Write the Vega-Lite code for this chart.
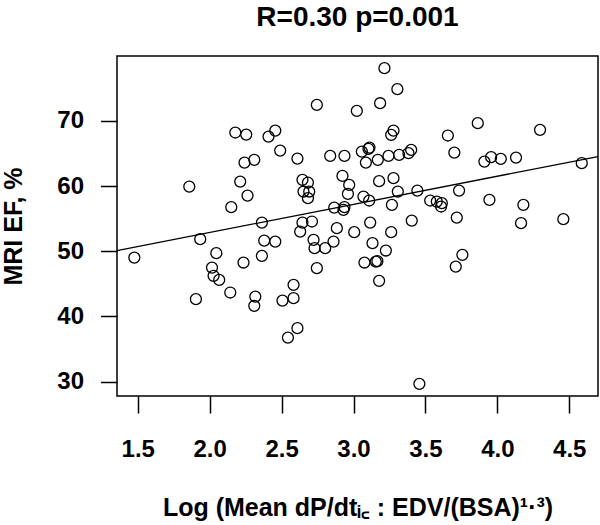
{
  "$schema": "https://vega.github.io/schema/vega-lite/v6.json",
  "width": 481,
  "height": 340,
  "autosize": {"type": "none"},
  "padding": {"left": 117, "top": 56, "right": 2, "bottom": 129},
  "background": "white",
  "title": {"text": "R=0.30 p=0.001", "font": "Liberation Sans", "fontSize": 28, "fontWeight": "bold", "color": "black", "offset": 24, "anchor": "middle"},
  "config": {
    "view": {"stroke": "black", "strokeWidth": 1.5},
    "axis": {
      "domain": false, "grid": false,
      "labelFont": "Liberation Sans", "labelFontSize": 24, "labelFontWeight": "bold", "labelColor": "black",
      "titleFont": "Liberation Sans", "titleFontSize": 25, "titleFontWeight": "bold", "titleColor": "black",
      "tickColor": "black", "tickWidth": 1.5, "labelFlush": false, "labelOverlap": false
    }
  },
  "datasets": {
    "points": [
      {"x": 2.178, "y": 68.21}, {"x": 2.254, "y": 67.90}, {"x": 2.242, "y": 63.60}, {"x": 2.310, "y": 64.02},
      {"x": 1.858, "y": 59.92}, {"x": 2.212, "y": 60.69}, {"x": 2.263, "y": 58.54}, {"x": 2.150, "y": 56.76},
      {"x": 2.363, "y": 54.40}, {"x": 1.934, "y": 51.86}, {"x": 2.379, "y": 51.64},
      {"x": 3.215, "y": 78.08}, {"x": 3.305, "y": 74.86}, {"x": 2.745, "y": 72.45}, {"x": 3.023, "y": 71.53},
      {"x": 3.185, "y": 72.71}, {"x": 2.456, "y": 68.51}, {"x": 2.409, "y": 67.59}, {"x": 3.278, "y": 68.51},
      {"x": 3.262, "y": 67.85}, {"x": 2.490, "y": 65.44}, {"x": 2.610, "y": 64.22}, {"x": 2.838, "y": 64.63},
      {"x": 2.937, "y": 64.63}, {"x": 3.058, "y": 65.29}, {"x": 3.104, "y": 65.71}, {"x": 3.111, "y": 65.90},
      {"x": 3.086, "y": 63.60}, {"x": 3.169, "y": 64.02}, {"x": 3.243, "y": 64.63}, {"x": 3.317, "y": 64.79},
      {"x": 3.382, "y": 65.05}, {"x": 3.401, "y": 65.55}, {"x": 2.645, "y": 60.95}, {"x": 2.683, "y": 60.54},
      {"x": 2.652, "y": 59.16}, {"x": 2.692, "y": 59.16}, {"x": 2.683, "y": 58.14}, {"x": 2.923, "y": 61.56},
      {"x": 2.970, "y": 60.18}, {"x": 2.961, "y": 58.80}, {"x": 3.178, "y": 60.75}, {"x": 3.278, "y": 61.21},
      {"x": 3.308, "y": 59.16}, {"x": 3.069, "y": 58.39}, {"x": 3.109, "y": 57.78}, {"x": 3.444, "y": 59.31},
      {"x": 2.866, "y": 56.70}, {"x": 2.937, "y": 56.76}, {"x": 2.930, "y": 56.35}, {"x": 3.267, "y": 57.12},
      {"x": 2.645, "y": 54.40}, {"x": 2.711, "y": 54.56}, {"x": 2.629, "y": 53.02}, {"x": 2.884, "y": 53.54},
      {"x": 3.116, "y": 54.40}, {"x": 3.405, "y": 54.71}, {"x": 3.005, "y": 52.93}, {"x": 3.262, "y": 52.93},
      {"x": 2.456, "y": 51.49}, {"x": 2.722, "y": 51.75}, {"x": 2.729, "y": 50.48}, {"x": 2.803, "y": 50.48},
      {"x": 2.861, "y": 51.49}, {"x": 3.132, "y": 51.24}, {"x": 3.225, "y": 50.11}, {"x": 3.076, "y": 48.27},
      {"x": 3.155, "y": 48.42}, {"x": 3.166, "y": 48.48}, {"x": 3.178, "y": 45.46}, {"x": 2.745, "y": 47.41},
      {"x": 2.583, "y": 44.85}, {"x": 2.583, "y": 42.81}, {"x": 2.506, "y": 42.44}, {"x": 2.610, "y": 38.21},
      {"x": 2.544, "y": 36.76}, {"x": 3.458, "y": 29.66},
      {"x": 1.476, "y": 49.03}, {"x": 2.046, "y": 49.71}, {"x": 2.016, "y": 47.50}, {"x": 2.027, "y": 46.23},
      {"x": 2.066, "y": 45.61}, {"x": 2.235, "y": 48.27}, {"x": 2.363, "y": 49.29}, {"x": 2.143, "y": 43.67},
      {"x": 1.904, "y": 42.65}, {"x": 2.317, "y": 43.05}, {"x": 2.310, "y": 41.63},
      {"x": 3.864, "y": 69.65}, {"x": 3.656, "y": 67.75}, {"x": 4.297, "y": 68.62}, {"x": 3.701, "y": 65.14},
      {"x": 3.910, "y": 63.76}, {"x": 3.957, "y": 64.43}, {"x": 4.024, "y": 64.17}, {"x": 4.130, "y": 64.37},
      {"x": 4.587, "y": 63.51}, {"x": 3.734, "y": 59.31}, {"x": 3.533, "y": 57.78}, {"x": 3.579, "y": 57.62},
      {"x": 3.614, "y": 57.38}, {"x": 3.609, "y": 56.86}, {"x": 3.945, "y": 57.88}, {"x": 4.181, "y": 57.12},
      {"x": 3.718, "y": 55.17}, {"x": 4.165, "y": 54.31}, {"x": 4.459, "y": 54.92},
      {"x": 3.757, "y": 49.45}, {"x": 3.711, "y": 47.65}
    ],
    "fit": [{"x": 1.3554, "y": 50.11}, {"x": 4.70, "y": 64.52}]
  },
  "layer": [
    {
      "data": {"name": "points"},
      "mark": {"type": "point", "shape": "circle", "filled": false, "stroke": "black", "strokeWidth": 1.3, "size": 120, "opacity": 1},
      "encoding": {
        "x": {
          "field": "x", "type": "quantitative",
          "scale": {"domain": [1.3554, 4.70], "nice": false, "zero": false},
          "axis": {"values": [1.5, 2.0, 2.5, 3.0, 3.5, 4.0, 4.5], "format": ".1f", "tickSize": 17, "labelPadding": 24, "titlePadding": 34,
                   "title": "Log (Mean dP/dtᵢ꜀ : EDV/(BSA)¹·³)"}
        },
        "y": {
          "field": "y", "type": "quantitative",
          "scale": {"domain": [27.8, 79.95], "nice": false, "zero": false},
          "axis": {"values": [30, 40, 50, 60, 70], "tickSize": 16.5, "labelPadding": 17, "titlePadding": 30, "title": "MRI EF, %"}
        }
      }
    },
    {
      "data": {"name": "fit"},
      "mark": {"type": "line", "color": "black", "strokeWidth": 1.3},
      "encoding": {
        "x": {"field": "x", "type": "quantitative"},
        "y": {"field": "y", "type": "quantitative"}
      }
    }
  ]
}
